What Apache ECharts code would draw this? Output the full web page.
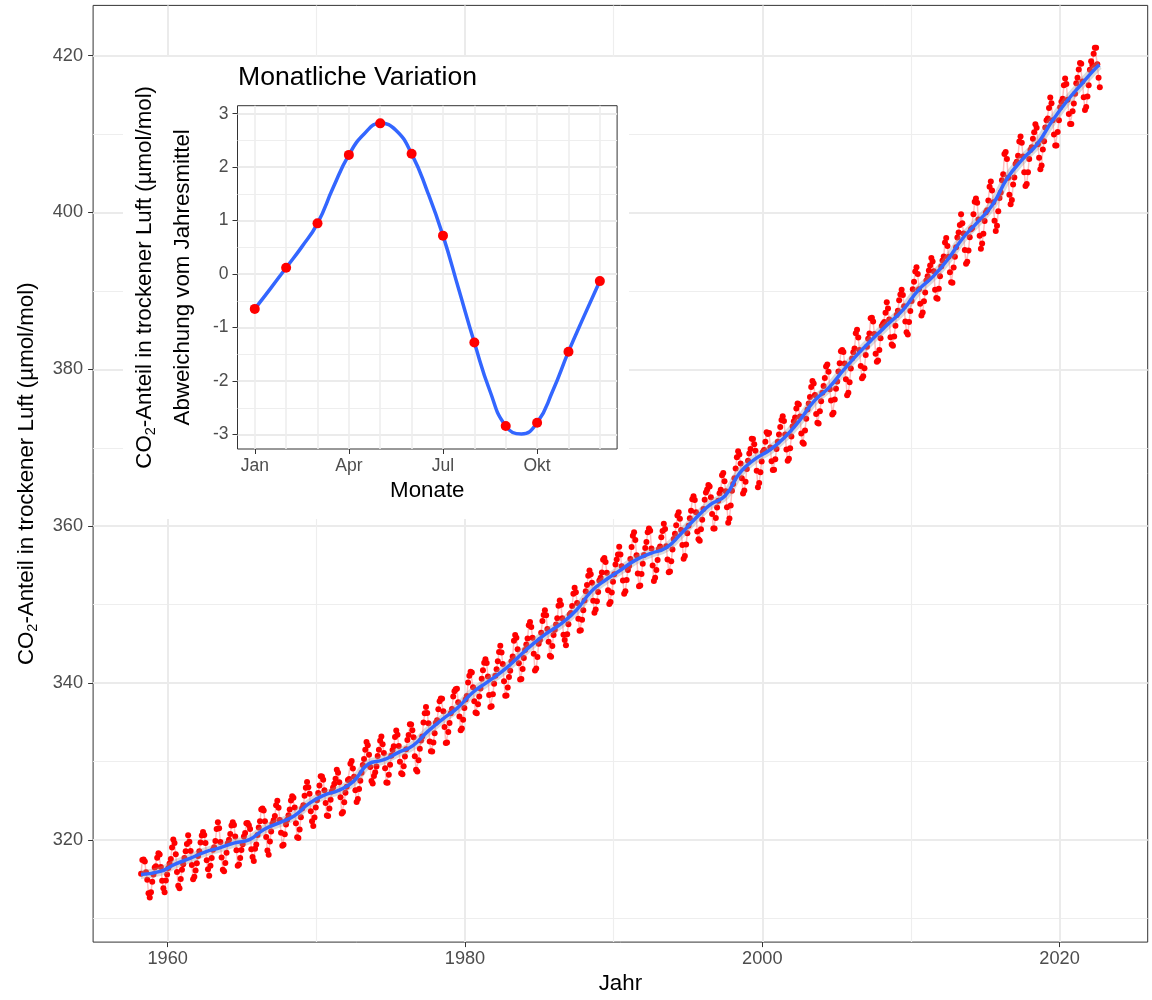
<!DOCTYPE html>
<html><head><meta charset="utf-8">
<script src="https://cdn.jsdelivr.net/npm/echarts@6/dist/echarts.min.js"></script>
<style>html,body{margin:0;padding:0;background:#fff}#c{width:1152px;height:1000px}</style>
</head><body><div id="c"></div>
<script>
// Monthly CO2 (Mauna Loa), starting March 1958
const startYear = 1958, startMonth = 3;
const co2Monthly = [
 315.70, 317.45, 317.51, 317.24, 315.86, 314.93, 313.20, 312.66, 313.33, 314.67,
 315.58, 316.49, 316.65, 317.72, 318.29, 318.15, 316.54, 314.80, 313.84, 313.33, 314.81, 315.58,
 316.43, 316.98, 317.58, 319.03, 320.04, 319.59, 318.18, 315.90, 314.17, 313.83, 315.00, 316.19,
 316.89, 317.70, 318.54, 319.48, 320.58, 319.77, 318.57, 316.79, 314.99, 315.31, 316.10, 317.01,
 317.94, 318.55, 319.68, 320.57, 321.02, 320.62, 319.61, 317.40, 316.25, 315.42, 316.69, 317.70,
 318.74, 319.07, 319.86, 321.38, 322.25, 321.48, 319.74, 317.77, 316.21, 315.99, 317.07, 318.35,
 319.57, 320.01, 320.74, 321.84, 322.26, 321.89, 320.44, 318.69, 316.70, 316.87, 317.68, 318.71,
 319.44, 320.44, 320.89, 322.13, 322.16, 321.87, 321.39, 318.80, 317.81, 317.30, 318.87, 319.42,
 320.62, 321.59, 322.39, 323.87, 324.01, 323.75, 322.39, 320.37, 318.64, 318.10, 319.79, 321.08,
 322.07, 322.50, 323.04, 324.42, 325.00, 324.09, 322.54, 320.92, 319.25, 319.39, 320.73, 321.96,
 322.57, 323.15, 323.89, 325.02, 325.57, 325.36, 324.14, 322.11, 320.33, 320.25, 321.32, 322.89,
 324.00, 324.42, 325.63, 326.66, 327.38, 326.71, 325.88, 323.66, 322.38, 321.78, 322.85, 324.12,
 325.06, 325.98, 326.93, 328.13, 328.08, 327.67, 326.34, 324.69, 323.10, 323.06, 324.01, 325.13,
 326.17, 326.68, 327.17, 327.79, 328.93, 328.57, 327.36, 325.43, 323.36, 323.56, 324.80, 326.01,
 326.77, 327.63, 327.75, 329.72, 330.07, 329.09, 328.04, 326.32, 324.84, 325.20, 326.50, 327.55,
 328.55, 329.56, 330.30, 331.50, 332.48, 332.07, 330.87, 329.31, 327.51, 327.18, 328.16, 328.64,
 329.35, 330.71, 331.48, 332.65, 333.18, 332.20, 331.07, 329.15, 327.33, 327.28, 328.31, 329.58,
 330.73, 331.46, 331.94, 333.11, 333.95, 333.42, 331.97, 329.95, 328.50, 328.36, 329.38, 330.62,
 331.56, 332.74, 333.36, 334.74, 334.72, 333.98, 333.08, 330.68, 328.96, 328.72, 330.16, 331.62,
 332.68, 333.17, 334.96, 336.14, 336.93, 336.17, 334.88, 332.56, 331.29, 331.27, 332.41, 333.60,
 334.95, 335.25, 336.66, 337.69, 338.03, 338.01, 336.41, 334.41, 332.37, 332.41, 333.75, 334.90,
 336.14, 336.69, 338.27, 338.96, 339.21, 339.26, 337.54, 335.75, 333.98, 334.19, 335.31, 336.81,
 337.90, 338.34, 340.07, 340.93, 341.45, 341.36, 339.45, 337.67, 336.25, 336.14, 337.30, 338.29,
 339.29, 340.55, 341.63, 342.60, 343.04, 342.54, 340.82, 338.48, 336.95, 337.05, 338.58, 339.91,
 340.93, 341.76, 342.78, 343.96, 344.77, 343.88, 342.42, 340.24, 338.38, 338.41, 339.44, 340.78,
 341.57, 342.79, 343.37, 345.40, 346.14, 345.76, 344.32, 342.51, 340.46, 340.53, 341.79, 343.20,
 344.21, 344.92, 345.68, 347.37, 347.78, 347.16, 345.79, 343.74, 341.59, 341.86, 343.31, 345.00,
 345.48, 346.41, 347.91, 348.66, 349.28, 348.65, 346.90, 345.26, 343.47, 343.35, 344.73, 346.12,
 346.78, 347.48, 348.25, 349.86, 350.52, 349.98, 348.25, 346.17, 345.48, 344.82, 346.22, 347.49,
 348.73, 348.92, 349.81, 351.40, 352.15, 351.58, 350.21, 348.20, 346.66, 346.72, 348.08, 349.28,
 350.51, 351.70, 352.50, 353.67, 354.35, 353.88, 352.80, 350.49, 348.97, 349.37, 350.42, 351.62,
 353.07, 353.43, 354.08, 355.72, 355.95, 355.44, 354.05, 351.84, 350.09, 350.33, 351.55, 352.91,
 353.86, 355.10, 355.75, 356.38, 357.38, 356.39, 354.89, 353.06, 351.38, 351.69, 353.14, 354.41,
 354.93, 355.82, 357.33, 358.77, 359.23, 358.23, 356.30, 353.97, 352.34, 352.43, 353.89, 355.21,
 356.34, 357.21, 357.97, 359.22, 359.71, 359.43, 357.15, 354.99, 353.01, 353.41, 354.42, 355.68,
 357.10, 357.42, 358.59, 359.39, 360.30, 359.64, 357.45, 355.76, 354.14, 354.23, 355.53, 357.03,
 358.36, 359.04, 360.11, 361.36, 361.78, 360.94, 359.51, 357.59, 355.86, 356.21, 357.65, 359.10,
 360.04, 361.00, 361.98, 363.44, 363.83, 363.33, 361.78, 359.33, 358.32, 358.14, 359.61, 360.82,
 362.20, 363.36, 364.28, 364.69, 365.25, 365.06, 363.69, 361.55, 359.69, 359.72, 361.04, 362.39,
 363.24, 364.21, 364.65, 366.49, 366.77, 365.73, 364.46, 362.40, 360.44, 360.98, 362.65, 364.51,
 365.39, 366.10, 367.36, 368.79, 369.56, 369.13, 367.98, 366.10, 364.16, 364.54, 365.67, 367.30,
 368.35, 369.28, 369.84, 371.15, 371.12, 370.46, 369.61, 367.06, 364.95, 365.52, 366.88, 368.26,
 369.45, 369.71, 370.75, 371.98, 371.75, 371.87, 370.02, 368.27, 367.15, 367.18, 368.53, 369.83,
 370.76, 371.69, 372.63, 373.55, 374.03, 373.40, 371.68, 369.78, 368.34, 368.61, 369.94, 371.42,
 372.70, 373.37, 373.85, 375.02, 375.65, 375.50, 374.00, 371.83, 370.66, 370.51, 372.20, 373.71,
 374.87, 375.63, 376.48, 377.74, 378.50, 378.18, 376.72, 374.31, 373.20, 373.10, 374.64, 375.93,
 377.00, 377.87, 378.88, 380.35, 380.62, 379.69, 377.47, 376.01, 374.25, 374.46, 376.16, 377.51,
 378.46, 379.73, 380.77, 382.29, 382.45, 382.21, 380.74, 378.74, 376.70, 377.00, 378.35, 380.11,
 381.38, 382.19, 382.67, 384.61, 385.03, 384.05, 382.46, 380.41, 378.85, 379.13, 380.15, 381.82,
 382.89, 383.90, 384.58, 386.50, 386.56, 386.10, 384.50, 381.99, 380.96, 381.12, 382.45, 383.95,
 385.52, 385.82, 386.03, 387.21, 388.54, 387.76, 386.36, 384.09, 383.18, 382.99, 384.19, 385.56,
 386.94, 387.48, 388.82, 389.55, 390.14, 389.48, 388.03, 386.11, 384.74, 384.43, 386.02, 387.42,
 388.71, 390.20, 391.17, 392.46, 393.00, 392.15, 390.20, 388.35, 386.85, 387.24, 388.67, 389.79,
 391.33, 391.86, 392.60, 393.25, 394.19, 393.74, 392.51, 390.13, 389.08, 389.00, 390.28, 391.86,
 393.12, 393.86, 394.40, 396.18, 396.74, 395.71, 394.36, 392.39, 391.11, 391.05, 392.98, 394.34,
 395.55, 396.80, 397.43, 398.41, 399.78, 398.61, 397.32, 395.20, 393.45, 393.70, 395.16, 396.84,
 397.85, 398.01, 399.77, 401.38, 401.78, 401.25, 399.10, 397.03, 395.38, 396.03, 397.28, 398.91,
 399.98, 400.28, 401.54, 403.28, 403.96, 402.80, 401.31, 398.93, 397.63, 398.29, 400.16, 401.85,
 402.56, 404.12, 404.87, 407.45, 407.72, 406.83, 404.41, 402.27, 401.05, 401.59, 403.55, 404.45,
 406.17, 406.46, 407.22, 409.04, 409.69, 408.88, 407.12, 405.13, 403.37, 403.63, 405.12, 406.81,
 407.96, 408.32, 409.41, 410.24, 411.24, 410.79, 408.71, 406.99, 405.51, 406.00, 408.02, 409.07,
 410.83, 411.75, 411.97, 413.32, 414.66, 413.92, 411.77, 409.95, 408.54, 408.53, 410.27, 411.76,
 413.40, 414.11, 414.51, 416.21, 417.07, 416.38, 414.38, 412.55, 411.29, 411.28, 412.89, 413.89,
 415.15, 416.47, 417.16, 418.24, 419.05, 418.97, 416.70, 414.70, 413.07, 413.43, 414.79, 416.22,
 418.19, 419.28, 418.81, 420.23, 420.99, 420.99, 418.90, 417.19, 415.95
];

// Smoothed trend (blue line)
const trendYears = [1958.2, 1959.5, 1960.5, 1961.5, 1962.5, 1963.5, 1964.5, 1965.5, 1966.5, 1967.5,
 1968.5, 1969.5, 1970.5, 1971.5, 1972.5, 1973.5, 1974.5, 1975.5, 1976.5, 1977.5, 1978.5, 1979.5,
 1980.5, 1981.5, 1982.5, 1983.5, 1984.5, 1985.5, 1986.5, 1987.5, 1988.5, 1989.5, 1990.5, 1991.5,
 1992.5, 1993.5, 1994.5, 1995.5, 1996.5, 1997.5, 1998.5, 1999.5, 2000.5, 2001.5, 2002.5, 2003.5,
 2004.5, 2005.5, 2006.5, 2007.5, 2008.5, 2009.5, 2010.5, 2011.5, 2012.5, 2013.5, 2014.5, 2015.5,
 2016.5, 2017.5, 2018.5, 2019.5, 2020.5, 2021.5, 2022.5, 2022.7];
const trendValues = [315.6, 315.98, 316.91, 317.64, 318.45, 318.99, 319.62, 320.04, 321.37, 322.18,
 323.05, 324.62, 325.68, 326.32, 327.46, 329.68, 330.19, 331.13, 332.03, 333.84, 335.41, 336.84,
 338.76, 340.12, 341.48, 343.15, 344.87, 346.35, 347.61, 349.31, 351.69, 353.20, 354.45, 355.70,
 356.54, 357.21, 358.96, 360.97, 362.74, 363.88, 366.84, 368.54, 369.71, 371.32, 373.45, 375.98,
 377.70, 379.98, 382.09, 384.02, 385.83, 387.64, 390.10, 391.85, 394.06, 396.74, 398.81, 401.01,
 404.41, 406.76, 408.72, 411.65, 414.21, 416.41, 418.53, 418.8];

// Inset: monthly deviation from annual mean
const months = [1, 2, 3, 4, 5, 6, 7, 8, 9, 10, 11, 12];
const monthDeviation = [-0.65, 0.12, 0.95, 2.23, 2.82, 2.25, 0.72, -1.28, -2.84, -2.78, -1.45, -0.13];
const curveMonths = [1, 1.5, 2, 2.5, 3, 3.5, 4, 4.5, 5, 5.5, 6, 6.5, 7, 7.5, 8, 8.5, 9, 9.5, 10, 10.5, 11, 11.5, 12];
const curveValues = [-0.65, -0.27, 0.12, 0.51, 0.95, 1.62, 2.23, 2.63, 2.82, 2.69, 2.25, 1.55, 0.72, -0.28, -1.28, -2.19, -2.84, -2.99, -2.78, -2.18, -1.45, -0.78, -0.13];

// Axis breaks
const mainXTicks = [1960, 1980, 2000, 2020];
const mainXMinor = [1970, 1990, 2010];
const mainYTicks = [320, 340, 360, 380, 400, 420];
const mainYMinor = [310, 330, 350, 370, 390, 410];
const insetXTicks = [1, 4, 7, 10];
const insetXTickLabels = ['Jan', 'Apr', 'Jul', 'Okt'];
const insetXGrid = [1, 2, 3, 4, 5, 6, 7, 8, 9, 10, 11, 12];
const insetYTicks = [-3, -2, -1, 0, 1, 2, 3];
const insetYMinor = [-2.5, -1.5, -0.5, 0.5, 1.5, 2.5];

const FONT = 'Liberation Sans';
const monthlyPoints = co2Monthly.map((v, i) => [startYear + (startMonth - 1 + i + 0.5) / 12, v]);
const trendPoints = trendYears.map((y, i) => [y, trendValues[i]]);
const insetPoints = months.map((m, i) => [m, monthDeviation[i]]);
const curvePoints = curveMonths.map((m, i) => [m, curveValues[i]]);

const tickLabelStyle = { color: '#4D4D4D', fontSize: 18.2, fontFamily: FONT };
const insetTickLabelStyle = { color: '#4D4D4D', fontSize: 17.5, fontFamily: FONT };
const titleStyle = { color: '#000', fontSize: 22.3, fontFamily: FONT };
const subRich = { sub: { fontSize: 14.5, lineHeight: 14, fontFamily: FONT, color: '#000', verticalAlign: 'middle', padding: [12, 0, 0, 0] } };
const tickLine = { color: '#333', width: 1 };

function majorAxis(o) {
  return Object.assign({
    type: 'value',
    axisLine: { show: false, onZero: false },
    axisTick: { show: true, length: 5, lineStyle: tickLine, customValues: o.ticks },
    axisLabel: Object.assign({ customValues: o.ticks, margin: 8 }, o.labelStyle || tickLabelStyle, o.label || {}),
    splitLine: { show: o.grid !== false, lineStyle: { color: '#EBEBEB', width: 2 } }
  }, o.extra);
}
function minorAxis(o) {
  return Object.assign({
    type: 'value',
    axisLine: { show: false, onZero: false },
    axisTick: { show: false, customValues: o.ticks },
    axisLabel: { show: false, customValues: o.ticks },
    splitLine: { show: true, lineStyle: { color: '#EEEEEE', width: o.width || 1.2 } }
  }, o.extra);
}

const chart = echarts.init(document.getElementById('c'), null, { renderer: 'canvas' });
chart.setOption({
  animation: false,
  backgroundColor: '#fff',
  textStyle: { fontFamily: FONT },
  title: {
    text: 'Monatliche Variation', left: 238, top: 64, padding: 0, zlevel: 1, z: 6,
    textStyle: { fontSize: 26.6, fontWeight: 'normal', color: '#000', fontFamily: FONT }
  },
  graphic: {
    elements: [{ type: 'rect', silent: true, zlevel: 1, z: 0,
      shape: { x: 123, y: 57, width: 506, height: 462 }, style: { fill: '#fff' } }]
  },
  grid: [
    { left: 93.1, top: 5.4, width: 1054.6, height: 939.4, show: true, borderColor: '#333', borderWidth: 1, backgroundColor: 'transparent' },
    { left: 237.5, top: 105.7, width: 379.6, height: 343.3, show: true, borderColor: '#333', borderWidth: 1, backgroundColor: '#fff', zlevel: 1, z: 1 }
  ],
  xAxis: [
    majorAxis({ ticks: mainXTicks, extra: { gridIndex: 0, position: 'bottom', min: 1954.98, max: 2025.93,
      name: 'Jahr', nameLocation: 'middle', nameGap: 30, nameTextStyle: titleStyle },
      label: { formatter: v => String(v) } }),
    minorAxis({ ticks: mainXMinor, width: 1.2, extra: { gridIndex: 0, position: 'top', min: 1954.98, max: 2025.93 } }),
    majorAxis({ ticks: insetXTicks, grid: false, labelStyle: insetTickLabelStyle, extra: { gridIndex: 1, position: 'bottom', min: 0.45, max: 12.55, zlevel: 1, z: 2,
      name: 'Monate', nameLocation: 'middle', nameGap: 31, nameTextStyle: titleStyle },
      label: { formatter: v => insetXTickLabels[insetXTicks.indexOf(v)] } }),
    minorAxis({ ticks: insetXGrid, width: 1.6, extra: { gridIndex: 1, position: 'top', min: 0.45, max: 12.55, zlevel: 1, z: 2 } })
  ],
  yAxis: [
    majorAxis({ ticks: mainYTicks, extra: { gridIndex: 0, position: 'left', min: 306.97, max: 426.4,
      name: 'CO{sub|2}-Anteil in trockener Luft (µmol/mol)', nameLocation: 'middle', nameGap: 53,
      nameTextStyle: Object.assign({ lineHeight: 26, rich: subRich }, titleStyle) },
      label: { margin: 10, formatter: v => String(v) } }),
    minorAxis({ ticks: mainYMinor, width: 1.2, extra: { gridIndex: 0, position: 'right', min: 306.97, max: 426.4 } }),
    majorAxis({ ticks: insetYTicks, labelStyle: insetTickLabelStyle, extra: { gridIndex: 1, position: 'left', min: -3.27, max: 3.15, zlevel: 1, z: 2,
      name: 'CO{sub|2}-Anteil in trockener Luft (µmol/mol)\nAbweichung vom Jahresmittel', nameLocation: 'middle', nameGap: 36,
      nameTextStyle: Object.assign({ lineHeight: 38, rich: subRich }, titleStyle) },
      label: { margin: 9, formatter: v => String(v) } }),
    minorAxis({ ticks: insetYMinor, width: 1.2, extra: { gridIndex: 1, position: 'right', min: -3.27, max: 3.15, zlevel: 1, z: 2 } })
  ],
  series: [
    { type: 'line', xAxisIndex: 0, yAxisIndex: 0, data: monthlyPoints, z: 2,
      symbol: 'circle', symbolSize: 6, showAllSymbol: true,
      itemStyle: { color: '#FF0000' }, lineStyle: { color: 'rgba(255,0,0,0.25)', width: 1.5 } },
    { type: 'line', xAxisIndex: 0, yAxisIndex: 0, data: trendPoints, z: 3, smooth: 0.5,
      symbol: 'none', lineStyle: { color: 'rgba(150,150,150,0.35)', width: 9 } },
    { type: 'line', xAxisIndex: 0, yAxisIndex: 0, data: trendPoints, z: 4, smooth: 0.5,
      symbol: 'none', lineStyle: { color: '#3366FF', width: 3.5 } },
    { type: 'line', xAxisIndex: 2, yAxisIndex: 2, data: curvePoints, zlevel: 1, z: 3, smooth: 0.5,
      symbol: 'none', lineStyle: { color: '#3366FF', width: 3.5 },
      markLine: { silent: true, symbol: 'none', label: { show: false },
        lineStyle: { color: '#000', width: 1.5, type: 'solid' }, data: [{ yAxis: 0 }] } },
    { type: 'scatter', xAxisIndex: 2, yAxisIndex: 2, data: insetPoints, zlevel: 1, z: 4,
      symbol: 'circle', symbolSize: 10, itemStyle: { color: '#FF0000', opacity: 1 } }
  ]
});
</script>
</body></html>
